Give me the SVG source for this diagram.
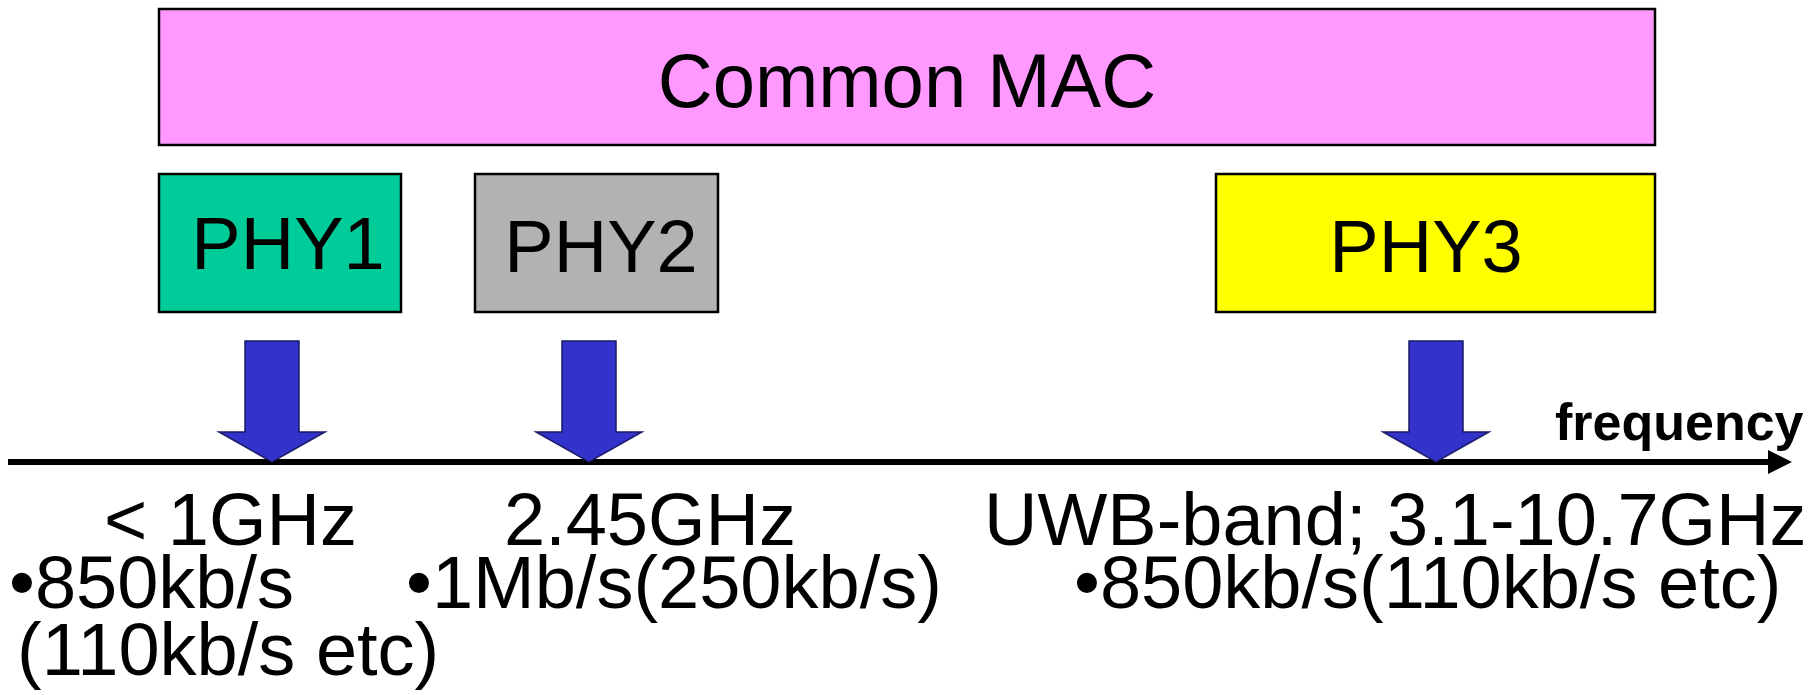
<svg xmlns="http://www.w3.org/2000/svg" xmlns:xlink="http://www.w3.org/1999/xlink" width="1819" height="695" viewBox="0 0 1819 695">
<style>
.box{stroke:#000;stroke-width:2.5}
.t{font-family:"Liberation Sans",Arial,sans-serif;fill:#000}
.big{font-size:76px}
.lbl{font-size:74px}
.freq{font-size:52px;font-weight:bold}
.blk{fill:#3333CC;stroke:#1a1a66;stroke-width:1.5}
</style>
<defs>
<polygon id="barrow" points="-27,0 27,0 27,91 53,91 0,121 -53,91 -27,91"/>
<marker id="ah" markerWidth="4" markerHeight="4" refX="0" refY="2" orient="auto" markerUnits="strokeWidth">
<path d="M0,0 L4,2 L0,4 Z" fill="#000"/>
</marker>
</defs>
<rect width="1819" height="695" fill="#fff"/>
<g id="mac">
<rect class="box" x="159" y="9" width="1496" height="136" fill="#FF99FF"/>
<text class="t big" x="907" y="107" text-anchor="middle">Common MAC</text>
</g>
<g id="phy1">
<rect class="box" x="159" y="174" width="242" height="138" fill="#00CC99"/>
<text class="t lbl" x="288" y="269" text-anchor="middle">PHY1</text>
</g>
<g id="phy2">
<rect class="box" x="475" y="174" width="243" height="138" fill="#B2B2B2"/>
<text class="t lbl" x="601" y="272" text-anchor="middle">PHY2</text>
</g>
<g id="phy3">
<rect class="box" x="1216" y="174" width="439" height="138" fill="#FFFF00"/>
<text class="t lbl" x="1426" y="272" text-anchor="middle">PHY3</text>
</g>
<g id="connectors">
<line x1="8" y1="462" x2="1768" y2="462" stroke="#000" stroke-width="6" marker-end="url(#ah)"/>
<use xlink:href="#barrow" class="blk" transform="translate(272,341)"/>
<use xlink:href="#barrow" class="blk" transform="translate(589,341)"/>
<use xlink:href="#barrow" class="blk" transform="translate(1436,341)"/>
</g>
<g id="axis-labels">
<text class="t freq" x="1555" y="440">frequency</text>
<text class="t lbl" x="104" y="545">&lt; 1GHz</text>
<text class="t lbl" x="9" y="608">•850kb/s</text>
<text class="t lbl" x="17" y="675">(110kb/s etc)</text>
<text class="t lbl" x="504" y="545">2.45GHz</text>
<text class="t lbl" x="406" y="608">•1Mb/s(250kb/s)</text>
<text class="t lbl" x="984" y="545">UWB-band; 3.1-10.7GHz</text>
<text class="t lbl" x="1074" y="608">•850kb/s(110kb/s etc)</text>
</g>
</svg>
